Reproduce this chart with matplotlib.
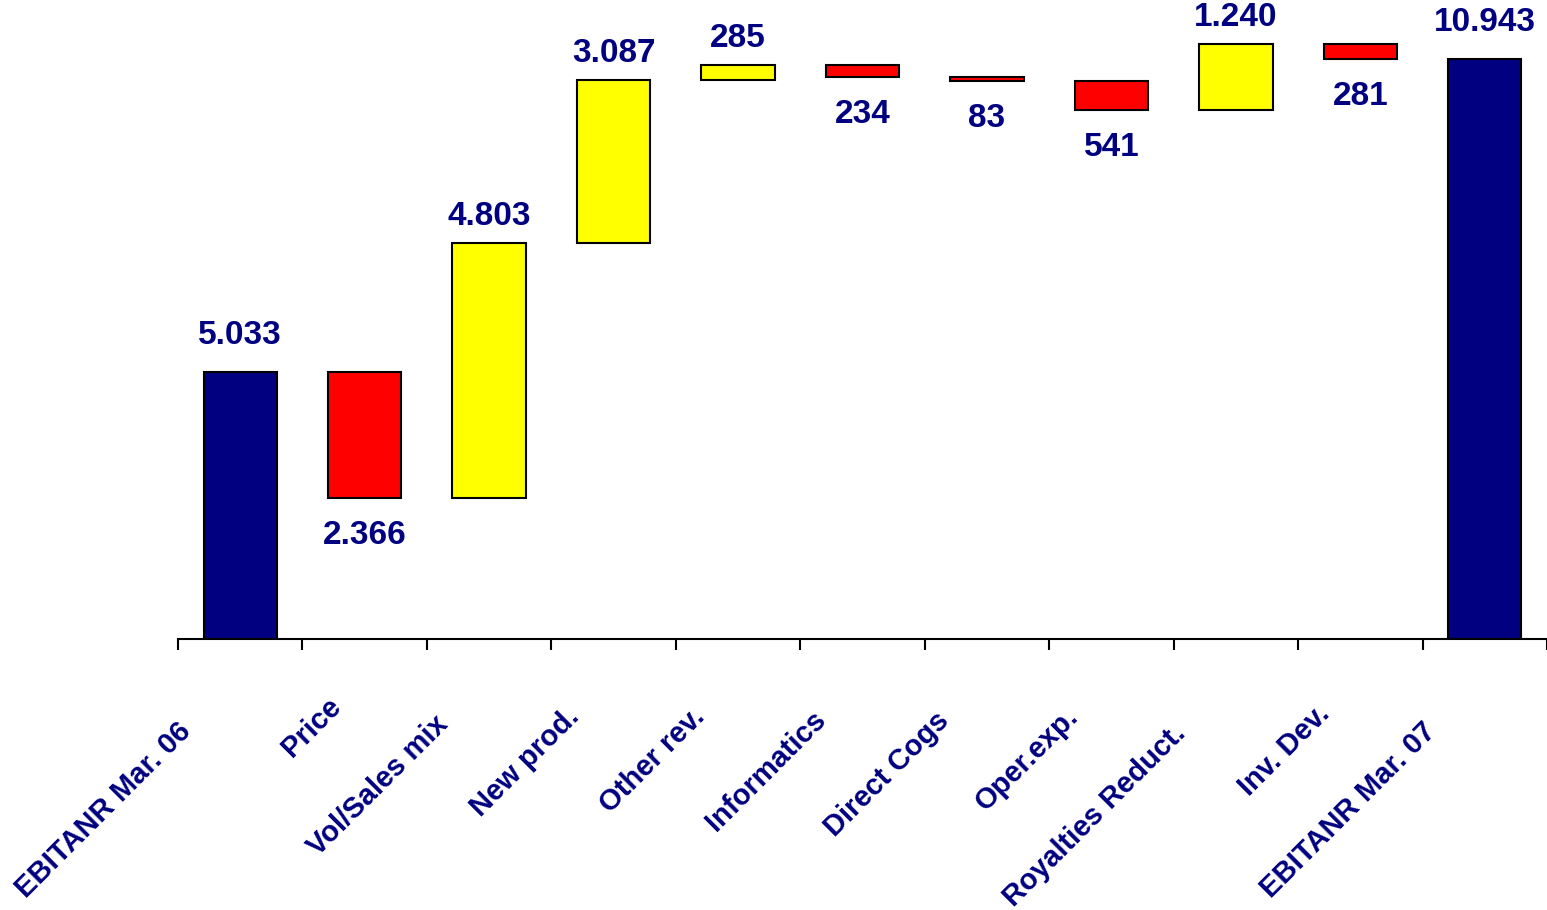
import matplotlib
matplotlib.use("Agg")
import matplotlib.pyplot as plt
import matplotlib.transforms as mtransforms
import numpy as np

plt.rcParams['font.family'] = ['Liberation Sans', 'DejaVu Sans']

# waterfall data (values in thousands, Italian number format in labels)
categories = ["EBITANR Mar. 06", "Price", "Vol/Sales mix", "New prod.", "Other rev.",
              "Informatics", "Direct Cogs", "Oper.exp.", "Royalties Reduct.", "Inv. Dev.",
              "EBITANR Mar. 07"]
changes = [5033, -2366, 4803, 3087, 285, -234, -83, -541, 1240, -281]
total_end = 10943
value_labels = ["5.033", "2.366", "4.803", "3.087", "285", "234", "83", "541",
                "1.240", "281", "10.943"]

navy = "#000080"
red = "#FF0000"
yellow = "#FFFF00"

# build bottoms / heights of the floating bars
bottoms = []
heights = []
colors = []
running = 0
for i, c in enumerate(changes):
    if i == 0:
        bottoms.append(0)
        heights.append(c)
        colors.append(navy)
        running = c
        continue
    if c >= 0:
        bottoms.append(running)
        heights.append(c)
        colors.append(yellow)
    else:
        bottoms.append(running + c)
        heights.append(-c)
        colors.append(red)
    running += c
bottoms.append(0)
heights.append(total_end)
colors.append(navy)

x = np.arange(len(categories))

fig = plt.figure(figsize=(15.47, 9.10), dpi=100)
ax = fig.add_axes([178 / 1547, (910 - 639) / 910, 1 - 178 / 1547, 639 / 910])

ax.bar(x, heights, bottom=bottoms, width=0.59, color=colors,
       edgecolor="black", linewidth=1.5, zorder=2)

# value labels: above totals and rising bars, below falling bars
for i in range(len(categories)):
    total = i == 0 or i == len(categories) - 1
    if total or changes[i] >= 0:
        gap = 21 if total else 11
        ax.annotate(value_labels[i], (x[i], bottoms[i] + heights[i]),
                    xytext=(0, gap), textcoords="offset pixels",
                    ha="center", va="bottom", fontsize=24, fontweight="bold",
                    color=navy, annotation_clip=False)
    else:
        ax.annotate(value_labels[i], (x[i], bottoms[i]),
                    xytext=(0, -22), textcoords="offset pixels",
                    ha="center", va="top", fontsize=24, fontweight="bold",
                    color=navy)

ax.set_xlim(-0.5, 10.5 - 3 / 124.7)
ax.set_ylim(0, 12061)

for s in ["top", "right", "left"]:
    ax.spines[s].set_visible(False)
ax.spines["bottom"].set_linewidth(1.5)
ax.yaxis.set_visible(False)

# major ticks between categories, labels on minor ticks at centres
ax.set_xticks(np.arange(-0.5, 11, 1))
ax.set_xticklabels([])
ax.tick_params(axis="x", which="major", direction="out", length=8, width=1.5)
ax.set_xticks(x, minor=True)
ax.set_xticklabels(categories, minor=True, rotation=45, ha="right", va="center",
                   rotation_mode="anchor", fontsize=21, fontweight="bold", color=navy)
ax.tick_params(axis="x", which="minor", length=0, pad=0)

# slide each rotated label down-left by a share of its own length
renderer = fig.canvas.get_renderer()
for lab in ax.get_xticklabels(minor=True):
    w, h, d = renderer.get_text_width_height_descent(lab.get_text(), lab.get_fontproperties(), ismath=False)
    shift = 0.155 * w
    dx = -17 - shift
    dy = -52 - shift
    lab.set_transform(lab.get_transform() + mtransforms.ScaledTranslation(dx / 100, dy / 100, fig.dpi_scale_trans))

fig.savefig("out.png", dpi=100)
